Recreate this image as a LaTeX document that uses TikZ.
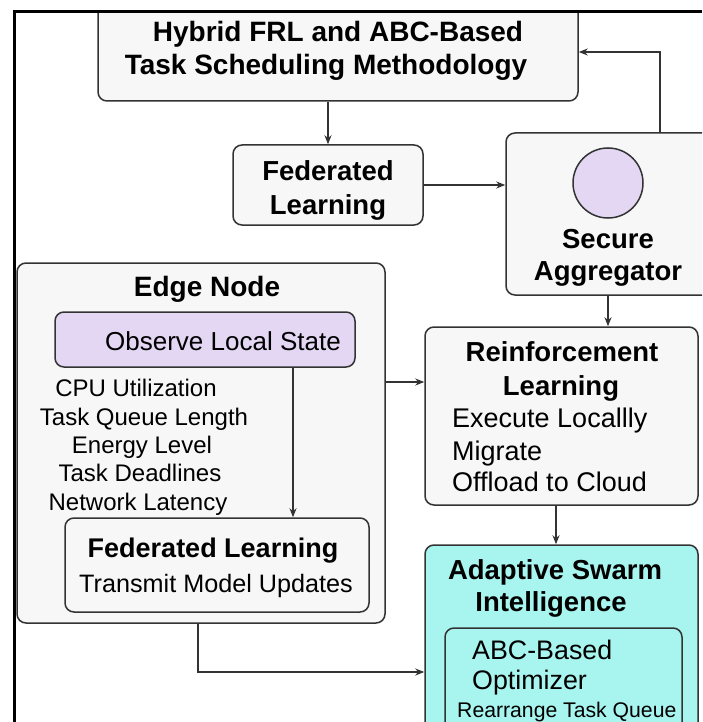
\documentclass[tikz,border=0pt]{standalone}
\usepackage{fontspec}
\setmainfont{Liberation Sans}
\usetikzlibrary{arrows.meta}
\definecolor{boxfill}{HTML}{F7F7F7}
\definecolor{boxline}{HTML}{333333}
\definecolor{lilac}{HTML}{E3D7F4}
\definecolor{aqua}{HTML}{A8F4EE}
\newcommand{\fsz}[1]{\fontsize{#1}{#1}\selectfont}
\tikzset{
  box/.style={draw=boxline, line width=1.5pt, fill=boxfill, rounded corners=9pt, inner sep=0pt},
  arr/.style={draw=boxline, line width=1.4pt, -{Stealth[length=9pt,width=7pt]}},
  hd/.style={inner sep=0pt, anchor=base, font=\fsz{27.5}\bfseries},
  tx/.style={inner sep=0pt, anchor=base, font=\fsz{26}},
}
\begin{document}
\begin{tikzpicture}[x=1pt,y=-1pt]
\useasboundingbox (0,0) rectangle (702,722);
\fill[white] (0,0) rectangle (702,722);
\begin{scope}
\clip (0,11) rectangle (702,722);
% boxes
\node[box, minimum width=480pt, minimum height=120pt] (title) at (338,41) {};
\node[box, minimum width=190pt, minimum height=80pt] (fl1) at (328,185) {};
\node[box, minimum width=230pt, minimum height=162pt] (sa) at (621,214) {};
\node[draw=boxline, line width=1.5pt, fill=lilac, circle, minimum size=70pt, inner sep=0pt] (circ) at (608,183) {};
\node[box, minimum width=368pt, minimum height=360pt] (edge) at (201,443) {};
\node[box, fill=lilac, minimum width=300pt, minimum height=55pt] (obs) at (205,339.5) {};
\node[box, minimum width=304pt, minimum height=94pt] (fl2) at (217,565) {};
\node[box, minimum width=273pt, minimum height=178pt] (rl) at (561.5,416) {};
\node[box, fill=aqua, minimum width=273pt, minimum height=240pt] (asi) at (561.5,665) {};
\node[box, fill=aqua, minimum width=237pt, minimum height=150pt] (opt) at (563.5,703) {};
% texts
\node[hd, font=\fsz{28}\bfseries] (t1) at (338,42) {Hybrid FRL and ABC-Based};
\node[hd, font=\fsz{28}\bfseries] (t2) at (326,75) {Task Scheduling Methodology};
\node[hd] (f1a) at (328,181) {Federated};
\node[hd] (f1b) at (328,214) {Learning};
\node[hd] (s1) at (608,248) {Secure};
\node[hd] (s2) at (608,280) {Aggregator};
\node[hd, font=\fsz{28}\bfseries] (en) at (207,296) {Edge Node};
\node[tx, anchor=base west] (ob) at (105,350) {Observe Local State};
\node[tx, font=\fsz{24}] (l1) at (136,396) {CPU Utilization};
\node[tx, font=\fsz{24}] (l2) at (144,425) {Task Queue Length};
\node[tx, font=\fsz{24}] (l3) at (142,453) {Energy Level};
\node[tx, font=\fsz{24}] (l4) at (140,481) {Task Deadlines};
\node[tx, font=\fsz{24}] (l5) at (138,510) {Network Latency};
\node[hd, font=\fsz{27}\bfseries] (f2a) at (213,557) {Federated Learning};
\node[tx, font=\fsz{25.2}] (f2b) at (216,592) {Transmit Model Updates};
\node[hd] (r1) at (562,361) {Reinforcement};
\node[hd] (r2) at (561,395) {Learning};
\node[tx, anchor=base west, font=\fsz{27}] (r3) at (452,427) {Execute Locallly};
\node[tx, anchor=base west, font=\fsz{27}] (r4) at (452,460) {Migrate};
\node[tx, anchor=base west, font=\fsz{27}] (r5) at (452,491) {Offload to Cloud};
\node[hd] (a1) at (555,579) {Adaptive Swarm};
\node[hd] (a2) at (551,611) {Intelligence};
\node[tx, anchor=base west, font=\fsz{26.8}] (o1) at (472,659) {ABC-Based};
\node[tx, anchor=base west, font=\fsz{26.8}] (o2) at (472,689) {Optimizer};
\node[tx, anchor=base west, font=\fsz{21.2}] (o3) at (457,717) {Rearrange Task Queue};
% connectors
\coordinate (up) at (660,52);
\coordinate (low) at (198,672);
\draw[arr] (title.south -| fl1.north) -- (fl1.north);
\draw[arr] (fl1.east) -- (fl1.east -| sa.west);
\draw[arr] (sa.north -| up) |- (title.east |- up);
\draw[arr] (sa.south -| circ) -- (rl.north -| circ);
\draw[arr] ([yshift=-382pt]edge.east |- 0,0) -- (rl.west |- 0,382);
\draw[arr] (obs.south -| 293,0) -- (fl2.north -| 293,0);
\draw[arr] (rl.south -| 556,0) -- (asi.north -| 556,0);
\draw[arr] (edge.south -| low) |- (asi.west |- low);
\end{scope}
\draw[line width=3.5pt] (14.5,722) -- (14.5,11.5) -- (702,11.5);
\end{tikzpicture}
\end{document}
